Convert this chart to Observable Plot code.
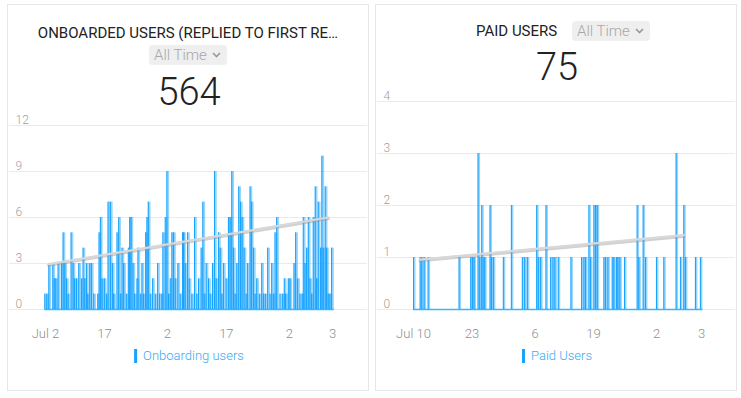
<!DOCTYPE html>
<html><head><meta charset="utf-8">
<script src="https://cdn.jsdelivr.net/npm/d3@7"></script>
<script src="https://cdn.jsdelivr.net/npm/@observablehq/plot@0.6"></script>
<style>
body{margin:0;background:#fff;font-family:Roboto,sans-serif;width:741px;height:398px;overflow:hidden;position:relative}
.card{position:absolute;top:4px;width:362px;height:387px;border:1px solid #e6e6e6;box-sizing:border-box;background:#fff}
.title{position:absolute;font-size:15px;color:#222;white-space:nowrap;line-height:18px}
.pill{position:absolute;height:20px;width:78px;background:#efefef;border-radius:4px;font-size:15px;font-weight:300;color:#a8a8a8;line-height:20px;box-sizing:border-box;padding-left:5px;white-space:nowrap}
.pill svg{margin-left:5px;vertical-align:2px}
.big{position:absolute;font-size:38px;font-weight:300;color:#222;line-height:38px;transform:translateX(-50%);white-space:nowrap}
.legend{position:absolute;font-size:13px;font-weight:300;color:#3aa9f5;display:flex;align-items:center;line-height:15px;transform:translateX(-50%);white-space:nowrap}
.legend i{display:inline-block;width:3px;height:14px;background:#17a2ff;margin-right:6px}
.chart{position:absolute;left:0}
</style></head>
<body>
<div class="card" id="c1" style="left:7px">
  <div class="title" style="left:0;width:360px;text-align:center;top:19px">ONBOARDED USERS (REPLIED TO FIRST RE…</div>
  <div class="pill" style="left:141px;top:40px">All Time<svg width="9" height="6"><polyline points="1,1 4.5,4.5 8,1" fill="none" stroke="#999" stroke-width="1.6"/></svg></div>
  <div class="big" style="left:181px;top:68px">564</div>
  <div class="chart" id="chart1" style="top:103px"></div>
  <div class="legend" style="left:181px;top:343px"><i></i>Onboarding users</div>
</div>
<div class="card" id="c2" style="left:375px">
  <div class="title" style="left:100px;top:17px">PAID USERS</div>
  <div class="pill" style="left:196px;top:16px">All Time<svg width="9" height="6"><polyline points="1,1 4.5,4.5 8,1" fill="none" stroke="#999" stroke-width="1.6"/></svg></div>
  <div class="big" style="left:181px;top:43px">75</div>
  <div class="chart" id="chart2" style="top:79px"></div>
  <div class="legend" style="left:181px;top:343px"><i></i>Paid Users</div>
</div>
<script>
// ---- Onboarding users (days since Jul 2) ----
const onboardDays = [-0.17,0.34,0.85,1.86,2.2,2.62,3.21,4.06,4.48,4.91,
 5.33,5.75,6.51,7.02,7.36,7.87,8.46,9.14,9.56,9.98,
 10.41,10.74,11.25,11.68,12.27,13.28,13.62,13.96,14.38,14.97,
 15.48,15.91,16.5,17.01,17.34,18.19,18.61,19.04,19.46,19.88,
 20.56,21.07,21.4,21.74,22.25,22.67,23.27,23.52,24.11,24.53,
 24.96,25.47,25.8,26.14,26.65,27.24,27.92,28.51,29.02,29.61,
 29.86,30.46,30.88,31.3,31.73,32.15,32.57,33.0,33.67,34.26,
 34.86,35.11,35.53,36.13,36.55,37.23,37.9,38.49,38.92,39.59,
 40.02,40.36,40.86,41.46,41.88,42.47,42.98,43.4,43.99,44.42,
 44.84,45.26,45.94,46.53,46.95,47.38,47.8,48.22,48.65,49.15,
 49.58,50.0,50.51,51.02,51.35,52.03,52.37,52.88,53.3,53.72,
 54.4,54.99,55.41,55.92,56.51,57.11,57.53,57.95,58.38,58.8,
 59.64,60.32,60.74,61.08,61.76,62.18,63.2,63.62,64.13,64.72,
 65.31,65.57,65.99,66.41,66.84,67.26,67.68,68.1,68.61,68.95,
 69.37,69.97,70.3,70.64,71.15,71.49,71.91,72.34,72.76];
const onboardValues = [1,1,3,3,2,2,3,3,5,3,
 2,1,5,3,2,2,3,2,4,2,
 3,1,3,3,1,1,5,6,2,2,
 1,7,7,3,1,5,6,1,4,3,
 1,4,6,6,3,1,2,4,1,3,
 1,5,6,7,1,2,1,3,1,1,
 5,6,9,1,2,5,5,2,3,1,
 5,5,3,5,2,1,6,1,2,4,
 7,1,3,2,1,3,9,2,5,4,
 1,3,2,6,6,9,4,1,3,8,
 7,6,4,1,3,8,7,4,1,2,
 1,3,1,1,4,1,3,1,5,6,
 1,1,2,1,2,2,3,5,2,1,
 1,6,3,4,6,2,1,6,8,2,
 7,4,10,4,8,4,1,1,4];
const onboardTrendDays = [0.85, 71.9];
const onboardTrendValues = [2.96, 6.0];
const onboardXTicks = [0, 15, 31, 46, 62, 73];
const onboardXLabels = ["Jul 2", "17", "2", "17", "2", "3"];
const onboardYTicks = [0, 3, 6, 9, 12];

// ---- Paid users (days since Jul 10) ----
const paidDays = [0,1.48,1.85,2.37,3.25,10.13,12.72,13.09,13.46,14.35,
 14.72,15.16,15.46,15.83,17.01,17.31,17.75,19.97,21.75,24.19,
 24.7,25.3,27.37,27.74,28.25,29.44,30.47,30.99,31.43,32.17,
 34.99,37.35,37.87,38.24,38.98,39.35,40.09,40.46,40.83,42.31,
 42.68,43.2,44.16,44.53,45.12,45.41,45.86,46.89,49.7,50.07,
 51.04,51.55,53.99,55.62,58.36,59.32,60.06,60.43,62.65,63.76];
const paidValues = [1,1,1,1,1,1,1,1,1,3,
 1,2,1,1,2,1,1,1,2,1,
 1,1,2,1,1,2,1,1,1,1,
 1,1,1,1,2,1,2,2,2,1,
 1,1,1,1,1,1,1,1,2,1,
 2,1,1,1,3,1,2,1,1,1];
const paidTrendDays = [1.48, 60.06];
const paidTrendValues = [0.96, 1.43];
const paidXTicks = [0, 13, 27, 40, 54, 64];
const paidXLabels = ["Jul 10", "23", "6", "19", "2", "3"];
const paidYTicks = [0, 1, 2, 3, 4];

const BLUE = "#17a2ff";

function spikeChart({days, values, trendDays, trendValues, xTicks, xLabels, yTicks, xDomain, height, marginBottom, marginLeft, marginRight, barW}) {
  const rows = days.map((d, i) => ({day: d, v: values[i]}));
  const trend = trendDays.map((d, i) => ({day: d, v: trendValues[i]}));
  const width = 360;
  return Plot.plot({
    width, height,
    marginTop: 17, marginBottom, marginLeft, marginRight,
    x: {domain: xDomain},
    y: {domain: [yTicks[0], yTicks[yTicks.length - 1]], axis: null},
    style: {fontFamily: "Roboto", fontSize: "13px", fontWeight: 300, background: "transparent", overflow: "visible"},
    marks: [
      Plot.ruleY(yTicks, {stroke: "#ebebeb", strokeWidth: 1, insetLeft: -marginLeft + 1, insetRight: -marginRight + 1}),
      Plot.text(yTicks, {y: d => d, text: d => String(d), frameAnchor: "left", textAnchor: "start", lineAnchor: "bottom", dx: -marginLeft + 7, dy: -2, fill: "#a0a0a0", fontSize: 12}),
      Plot.rect(rows, {x1: "day", x2: d => d.day + barW, y1: 0, y2: "v", fill: BLUE, fillOpacity: 0.45}),
      Plot.ruleX(rows, {x: "day", y1: 0, y2: "v", stroke: BLUE, strokeWidth: 1}),
      Plot.ruleY([0], {x1: d3.min(days), x2: d3.max(days) + barW, stroke: BLUE, strokeWidth: 1.5, strokeOpacity: 0.8}),
      Plot.line(trend, {x: "day", y: "v", stroke: "#9a9a9a", strokeWidth: 3.5, strokeOpacity: 0.45, dy: 1}),
      Plot.line(trend, {x: "day", y: "v", stroke: "#d8d8d8", strokeWidth: 2.2}),
      Plot.axisX(xTicks, {tickSize: 0, tickPadding: 19, label: null, fill: "#8f8f8f", fontSize: 13,
        tickFormat: d => xLabels[xTicks.indexOf(d)]})
    ]
  });
}

document.getElementById("chart1").append(spikeChart({
  days: onboardDays, values: onboardValues, trendDays: onboardTrendDays, trendValues: onboardTrendValues,
  xTicks: onboardXTicks, xLabels: onboardXLabels, yTicks: onboardYTicks,
  xDomain: [0, 73], height: 240, marginBottom: 39, marginLeft: 37, marginRight: 36, barW: 0.7
}));
document.getElementById("chart2").append(spikeChart({
  days: paidDays, values: paidValues, trendDays: paidTrendDays, trendValues: paidTrendValues,
  xTicks: paidXTicks, xLabels: paidXLabels, yTicks: paidYTicks,
  xDomain: [0, 64], height: 264, marginBottom: 39, marginLeft: 37, marginRight: 35, barW: 0.55
}));
</script>
</body></html>
